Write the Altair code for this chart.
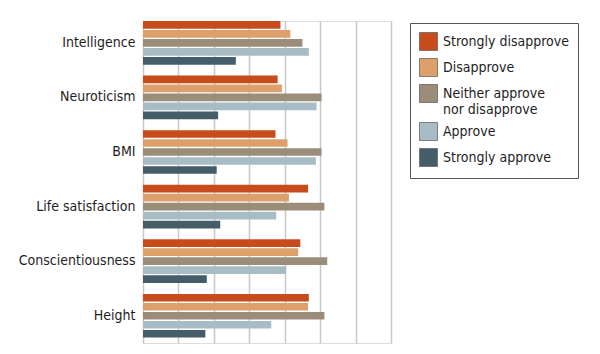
import altair as alt
import pandas as pd

traits = ["Intelligence", "Neuroticism", "BMI", "Life satisfaction",
          "Conscientiousness", "Height"]
responses = ["Strongly disapprove", "Disapprove", "Neither approve nor disapprove",
             "Approve", "Strongly approve"]

strongly_disapprove = [19.4, 19.0, 18.7, 23.3, 22.2, 23.4]
disapprove = [20.8, 19.6, 20.4, 20.6, 21.9, 23.3]
neither = [22.5, 25.2, 25.2, 25.6, 26.0, 25.6]
approve = [23.4, 24.5, 24.4, 18.8, 20.2, 18.1]
strongly_approve = [13.1, 10.6, 10.4, 10.9, 9.0, 8.8]

colors = ["#C84B1B", "#DDA06A", "#9C8D7B", "#A8BCC6", "#455C69"]
grid_values = [0, 5, 10, 15, 20, 25, 30, 35]

series = [strongly_disapprove, disapprove, neither, approve, strongly_approve]
rows = []
for resp, vals in zip(responses, series):
    for t, v in zip(traits, vals):
        rows.append({"trait": t, "response": resp, "value": v})
df = pd.DataFrame(rows)

FONT = "DejaVu Sans Condensed, sans-serif"

chart = alt.Chart(df).mark_bar().encode(
    y=alt.Y("trait:N", sort=traits,
            scale=alt.Scale(paddingInner=0.2, paddingOuter=0.05, align=0),
            axis=alt.Axis(title=None, domain=False, ticks=False, labelPadding=8,
                          labelFontSize=14, labelColor="#1e1e1e", labelFont=FONT)),
    yOffset=alt.YOffset("response:N", sort=responses,
                        scale=alt.Scale(paddingInner=0.15)),
    x=alt.X("value:Q", scale=alt.Scale(domain=[0, 35], nice=False),
            axis=alt.Axis(title=None, labels=False, ticks=False, domain=False,
                          values=grid_values, gridColor="#c8c8c8", gridWidth=1.5)),
    color=alt.Color("response:N", sort=responses,
                    scale=alt.Scale(domain=responses, range=colors),
                    legend=alt.Legend(
                        title=None, orient="none", legendX=267, legendY=2,
                        strokeColor="#555555", padding=9, fillColor="white",
                        symbolType="square", symbolSize=324, symbolStrokeWidth=0.8,
                        symbolStrokeColor="#666666", symbolOpacity=1,
                        labelFontSize=14, labelFont=FONT, labelColor="#1e1e1e",
                        labelOffset=5, rowPadding=3, labelLimit=200,
                        labelExpr="datum.label == 'Neither approve nor disapprove' ? ['Neither approve', 'nor disapprove'] : datum.label"))
).properties(
    width=248, height=322,
    padding={"left": 143, "top": 21, "right": 209, "bottom": 11},
    autosize="none"
).configure_view(strokeWidth=0).configure(background="white")

chart.save("out.html", embed_options={"renderer": "svg", "actions": False})
